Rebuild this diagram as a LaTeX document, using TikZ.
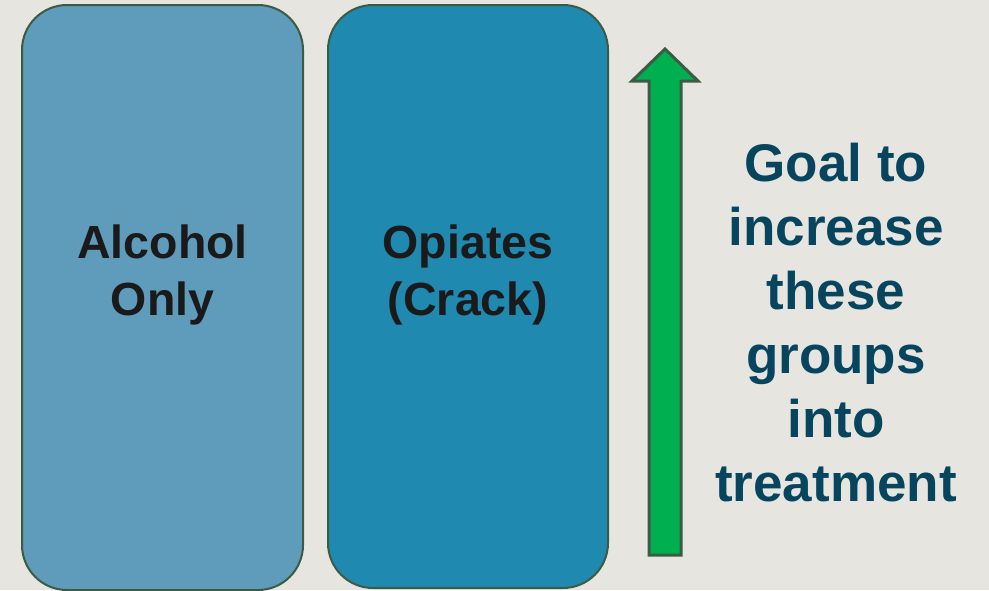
\documentclass[tikz,border=0pt]{standalone}
\usepackage{xcolor}
\usepackage{fontspec}
\usepackage{tikz}
\usetikzlibrary{positioning}
\setmainfont{Liberation Sans}

\definecolor{slidebg}{HTML}{E7E5E0}
\definecolor{alcoholblue}{HTML}{5F9BBB}
\definecolor{opiateblue}{HTML}{1F89B0}
\definecolor{edgegreen}{HTML}{3B5B42}
\definecolor{arrowgreen}{HTML}{00B050}
\definecolor{goalteal}{HTML}{07455F}
\definecolor{darktext}{HTML}{1A1A1A}

\begin{document}
\begin{tikzpicture}[
			x=1pt, y=-1pt,
			groupbox/.style={
				rectangle, draw=edgegreen, line width=2pt, rounded corners=45pt,
				minimum width=281pt, inner sep=0pt
			},
			grouptext/.style={
				align=center, inner sep=0pt, text=darktext,
				font=\fontsize{46.5}{57}\selectfont\bfseries
			},
			goaltext/.style={
				align=center, inner sep=0pt, text=goalteal,
				font=\fontsize{53}{64}\selectfont\bfseries
			},
			uparrow/.style={
				fill=arrowgreen, draw=edgegreen, line width=3pt, line join=miter
			}
			]
			
			\fill[slidebg] (0,0) rectangle (989,590);
			\useasboundingbox (0,0) rectangle (989,590);
			
			\node[groupbox, fill=alcoholblue, minimum height=585pt] (alcohol) at (162.5,297.5) {};
			\node[groupbox, fill=opiateblue, minimum width=280pt, minimum height=583pt] (opiates) at (468,296.5) {};
			
			\node[grouptext] (alcoholtext) at (162.5,275) {Alcohol\\Only};
			\node[grouptext] (opiatestext) at (468,275) {Opiates\\(Crack)};
			
			% goal arrow
			\draw[uparrow] (649,555) -- (649,81) -- (632,81) -- (665,49)
				-- (698,81) -- (681,81) -- (681,555) -- cycle;
			
			\node[goaltext] (goal) at (836,323) {Goal to\\increase\\these\\groups\\into\\treatment};
			
		\end{tikzpicture}
\end{document}
